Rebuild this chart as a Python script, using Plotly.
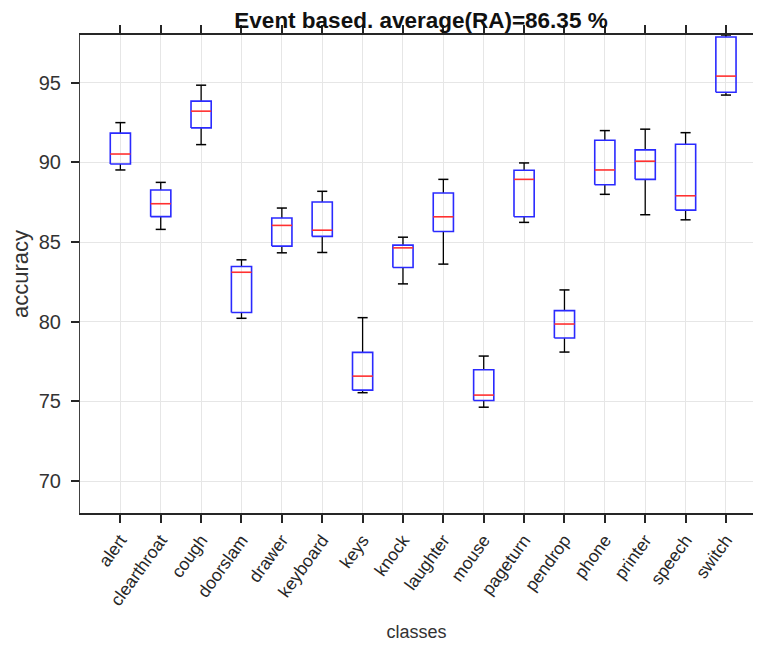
import plotly.graph_objects as go

classes = ["alert", "clearthroat", "cough", "doorslam", "drawer", "keyboard", "keys",
           "knock", "laughter", "mouse", "pageturn", "pendrop", "phone", "printer",
           "speech", "switch"]
lower_whisker = [89.53, 85.80, 91.12, 80.22, 84.33, 84.35, 75.55, 82.38, 83.62, 74.64,
                 86.24, 78.10, 88.00, 86.72, 86.40, 94.23]
q1 = [89.90, 86.60, 92.17, 80.58, 84.75, 85.36, 75.71, 83.41, 85.67, 75.06,
      86.59, 78.98, 88.60, 88.94, 87.01, 94.41]
median = [90.53, 87.41, 93.22, 83.11, 86.05, 85.75, 76.59, 84.64, 86.59, 75.40,
          88.94, 79.86, 89.53, 90.08, 87.91, 95.42]
q3 = [91.84, 88.27, 93.85, 83.47, 86.51, 87.52, 78.08, 84.81, 88.08, 76.99,
      89.51, 80.70, 91.39, 90.79, 91.14, 97.87]
upper_whisker = [92.50, 88.75, 94.85, 83.89, 87.14, 88.19, 80.26, 85.31, 88.94, 77.85,
                 89.97, 82.00, 92.00, 92.09, 91.87, 98.00]
y_ticks = [70, 75, 80, 85, 90, 95]
title_text = "Event based. average(RA)=86.35 %"

BOX_HW = 0.25
CAP_HW = 0.125

positions = list(range(1, len(classes) + 1))

wx, wy, cx, cy, bx, by, mx, my = [], [], [], [], [], [], [], []
for p, lo, a, m, b, hi in zip(positions, lower_whisker, q1, median, q3, upper_whisker):
    wx += [p, p, None, p, p, None]
    wy += [b, hi, None, a, lo, None]
    cx += [p - CAP_HW, p + CAP_HW, None, p - CAP_HW, p + CAP_HW, None]
    cy += [hi, hi, None, lo, lo, None]
    bx += [p - BOX_HW, p + BOX_HW, p + BOX_HW, p - BOX_HW, p - BOX_HW, None]
    by += [a, a, b, b, a, None]
    mx += [p - BOX_HW, p + BOX_HW, None]
    my += [m, m, None]

fig = go.Figure()
fig.add_trace(go.Scatter(x=wx, y=wy, mode="lines", line=dict(color="black", width=1.3),
                         hoverinfo="skip", showlegend=False))
fig.add_trace(go.Scatter(x=cx, y=cy, mode="lines", line=dict(color="black", width=1.5),
                         hoverinfo="skip", showlegend=False))
fig.add_trace(go.Scatter(x=bx, y=by, mode="lines", line=dict(color="#2a2aff", width=1.6),
                         hoverinfo="skip", showlegend=False))
fig.add_trace(go.Scatter(x=mx, y=my, mode="lines", line=dict(color="#ff3030", width=1.6),
                         hoverinfo="skip", showlegend=False))

font = "Liberation Sans, Arial, Helvetica, sans-serif"
W, H = 745, 634
fig.update_layout(
    width=W, height=H,
    margin=dict(l=72, r=0, t=27, b=129),
    paper_bgcolor="white", plot_bgcolor="white",
    font=dict(family=font, size=16, color="#262626"),
    title=dict(text="<b>" + title_text + "</b>", x=413 / W, xanchor="center",
               y=1 - 12 / H, yanchor="middle",
               font=dict(family=font, size=22.5, color="#111111")),
    xaxis=dict(range=[0, 16.67], tickvals=positions, ticktext=classes, tickangle=-54,
               automargin=False,
               showgrid=True, gridcolor="#e6e6e6", gridwidth=1, zeroline=False,
               showline=True, linecolor="#262626", linewidth=2, mirror="ticks",
               ticks="outside", ticklen=8, tickwidth=2, tickcolor="#262626",
               tickfont=dict(size=17.5, color="#262626"),
               title=dict(text="classes", standoff=22, font=dict(size=18, color="#333333"))),
    yaxis=dict(range=[68, 98], tickvals=y_ticks, showgrid=True, gridcolor="#e6e6e6",
               automargin=False, ticklabelstandoff=6,
               gridwidth=1, zeroline=False, showline=True, linecolor="#404040", linewidth=1.2,
               ticks="outside", ticklen=8, tickwidth=2, tickcolor="#262626",
               tickfont=dict(size=20, color="#333333"),
               title=dict(text="accuracy", standoff=4, font=dict(size=22, color="#333333"))),
)

fig.write_html("out.html")
